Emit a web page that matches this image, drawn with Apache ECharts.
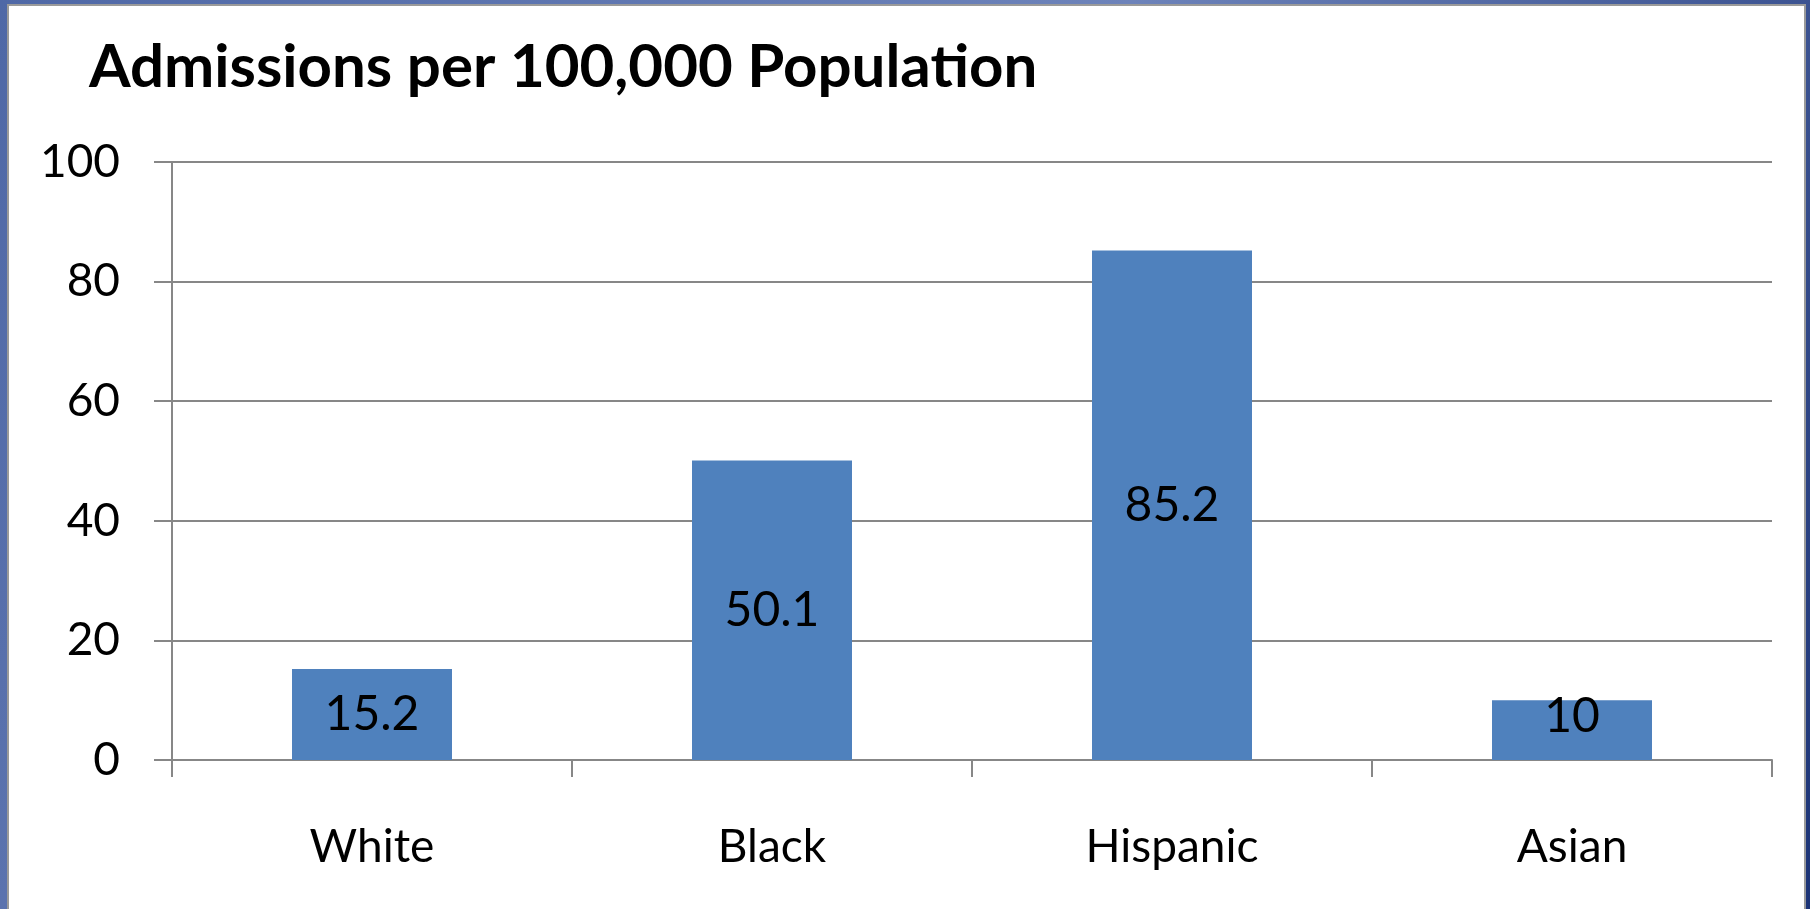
<!DOCTYPE html>
<html>
<head>
<meta charset="utf-8">
<title>Admissions per 100,000 Population</title>
<script src="https://cdn.jsdelivr.net/npm/echarts@6/dist/echarts.min.js"></script>
<style>
  html, body { margin: 0; padding: 0; background: #ffffff; }
  #chart { width: 1810px; height: 909px; }
</style>
</head>
<body>
<div id="chart"></div>
<script>
// Chart data
const titleText = 'Admissions per 100,000 Population';
const categories = ['White', 'Black', 'Hispanic', 'Asian'];
const admissionRates = [15.2, 50.1, 85.2, 10];
const yTicks = [0, 20, 40, 60, 80, 100];

const FONT = 'Lato';
const chart = echarts.init(document.getElementById('chart'), null, { renderer: 'canvas' });

// Short bars keep their value label pinned near the top of the bar
const barData = admissionRates.map(v => {
  const item = { value: v };
  if (v < 12) {
    item.label = { position: ['50%', '27%'], align: 'center', verticalAlign: 'middle' };
  }
  return item;
});

const option = {
  animation: false,
  backgroundColor: '#ffffff',
  graphic: [
    {
      type: 'rect', z: -10, silent: true,
      shape: { x: 0, y: 0, width: 1810, height: 909 },
      style: {
        fill: new echarts.graphic.LinearGradient(0, 0, 1, 1, [
          { offset: 0, color: '#4f68a6' },
          { offset: 0.5, color: '#6d83ba' },
          { offset: 1, color: '#1b3376' }
        ])
      }
    },
    {
      type: 'rect', z: -9, silent: true,
      shape: { x: 8, y: 5, width: 1797, height: 920 },
      style: { fill: '#ffffff', stroke: '#9a9a9a', lineWidth: 2 }
    }
  ],
  title: {
    text: titleText,
    left: 84,
    top: 33,
    textStyle: { fontFamily: FONT, fontWeight: 'bold', fontSize: 60, color: '#000000' }
  },
  grid: { left: 172, right: 38, top: 162, bottom: 149 },
  xAxis: {
    type: 'category',
    data: categories,
    axisLine: { show: true, lineStyle: { color: '#878787', width: 2 } },
    axisTick: { show: true, length: 17, lineStyle: { color: '#878787', width: 2 } },
    axisLabel: { margin: 64, fontFamily: FONT, fontSize: 46, color: '#000000' }
  },
  yAxis: {
    type: 'value',
    min: yTicks[0],
    max: yTicks[yTicks.length - 1],
    interval: yTicks[1] - yTicks[0],
    axisLine: { show: true, lineStyle: { color: '#878787', width: 2 } },
    axisTick: { show: true, length: 18, lineStyle: { color: '#878787', width: 2 } },
    axisLabel: { margin: 52, fontFamily: FONT, fontSize: 46, color: '#000000' },
    splitLine: { show: true, lineStyle: { color: '#878787', width: 2 } }
  },
  series: [{
    type: 'bar',
    data: barData,
    barWidth: '40%',
    itemStyle: { color: '#4f81bd' },
    label: {
      show: true,
      position: 'inside',
      fontFamily: FONT,
      fontSize: 48,
      color: '#000000'
    }
  }]
};

chart.setOption(option);
</script>
</body>
</html>
